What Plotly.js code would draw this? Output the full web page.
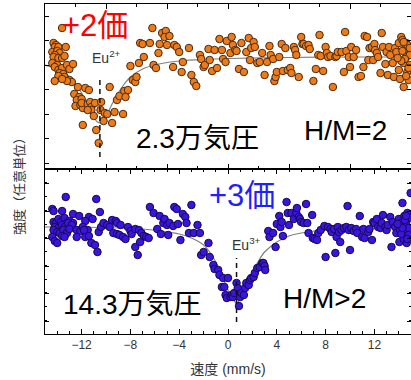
<!DOCTYPE html>
<html><head><meta charset="utf-8">
<script src="https://cdn.plot.ly/plotly-3.0.1.min.js"></script>
<style>html,body{margin:0;padding:0;background:#fff;overflow:hidden}#chart{width:411px;height:380px}</style>
</head><body><div id="chart"></div>
<script>
const FONT = '"Liberation Sans", Arial, "Noto Sans CJK JP", sans-serif';

// Top panel (2.3万気圧): velocity (mm/s), intensity (arb. units)
const topPoints = [
[-13.6,141],[-14.3,126],[-14.1,124],[-14.2,122],[-13.9,122],[-14.4,117],[-14.0,118],[-13.8,116],[-14.2,114],[-14.3,112],[-13.9,111],[-13.6,111],[-13.4,113],[-13.3,122],[-14.4,106],[-14.0,104],[-14.2,102],[-13.9,99],[-13.6,101],[-13.2,104],[-13.0,100],[-12.7,105],[-13.8,96],[-13.5,95],[-13.9,93],[-13.4,92],[-13.0,89],[-12.8,87],[-13.2,88],[-14.2,88],[-13.6,90],[-12.3,82],[-12.6,75],[-12.2,72],[-12.4,69],[-12.0,70],[-11.7,81],[-11.4,79],[-12.5,63],[-12.1,64],[-11.9,61],[-12.0,66],[-11.5,65],[-11.3,67],[-11.2,62],[-10.9,66],[-11.2,59],[-11.5,59],[-11.0,53],[-11.9,44],[-10.4,67],[-10.45,59],[-10.1,56],[-10.8,39],[-10.6,26],[-9.9,55],[-10.2,48],[-9.7,82],[-9.5,46],[-9.1,69],[-9.3,57],[-8.9,73],[-8.5,78],[-8.6,55],[-8.4,72],[-8.2,79],[-8.0,103],[-7.8,89],[-7.6,87],[-7.5,92],[-7.3,106],[-7.2,126],[-7.0,125],[-6.9,112],[-6.4,126],[-6.2,141],[-6.1,104],[-5.9,101],[-5.7,116],[-5.6,125],[-5.4,136],[-5.1,138],[-5.2,132],[-4.8,133],[-5.0,124],[-4.5,102],[-4.4,124],[-4.2,122],[-4.0,117],[-3.8,97],[-3.7,107],[-3.2,121],[-3.0,94],[-2.8,87],[-2.6,83],[-2.3,114],[-2.2,110],[-2.0,102],[-1.9,104],[-1.6,120],[-1.5,109],
[-1.3,98],[-1.1,119],[-0.9,101],[-0.7,130],[-0.5,119],[-0.4,110],[-0.2,107],[-0.1,128],[0.2,116],[0.3,132],[0.4,124],[0.6,119],[0.7,118],[0.9,100],[1.1,126],[1.3,97],[1.5,117],[1.7,131],[1.8,109],[1.9,121],[2.1,127],[2.2,122],[2.4,106],[2.6,107],[2.8,116],[3.0,94],[3.2,107],[3.4,123],[3.5,114],[3.7,110],[3.8,88],[3.9,92],[4.0,97],[4.2,112],[4.4,125],[4.5,98],[4.7,121],[4.9,99],[5.1,101],[5.2,96],[5.4,122],[5.5,119],[5.6,114],[5.8,92],[6.0,132],[6.1,125],[6.2,125],[6.4,123],[6.6,124],[6.7,120],[7.0,88],[7.2,100],[7.4,114],[7.5,134],[7.6,113],[7.8,98],[8.0,122],[8.1,116],[8.2,112],[8.4,113],[8.6,82],[8.8,112],[8.9,113],[9.0,117],[9.3,117],[9.5,97],[9.6,137],[9.7,118],[9.9,112],[10.0,102],[10.1,122],[10.3,112],[10.5,119],[10.7,92],[10.9,93],[11.1,102],[11.2,133],[11.4,132],[11.5,109],[11.6,121],[11.8,122],[11.9,109],[12.0,125],[12.05,119],[12.2,116],[12.3,112],[12.5,96],[12.6,136],[12.7,122],[12.9,105],[13.0,117],[13.1,94],[13.2,122],[13.3,114],[13.5,106],[13.6,92],[13.7,121],[13.8,117],[14.0,126],[14.0,99],[14.1,90],[14.2,132],[14.3,129],[14.4,82],[14.4,106],[14.5,120],[14.6,126],[14.6,112],[14.7,97],[14.8,89],[14.9,104],[14.9,114],[14.3,118],[14.5,110],[14.7,124],[14.8,101],[14.2,108],[14.6,93],[14.9,121],[13.9,111],[14.4,127]
];
const topFitVelocity  = [-15,-14,-13.5,-13,-12.5,-12,-11.5,-11,-10.75,-10.5,-10.25,-10,-9.5,-9,-8.5,-8,-7,-6,-5,-4,-2,0,5,10,15];
const topFitIntensity = [104,100,97,92,85,76,65,52,47.5,46,47.5,52,65,76,85,92,100,104,106.5,108,109.6,110.5,111.5,112,112];

// Bottom panel (14.3万気圧)
const bottomPoints = [
[-13.3,137],[-14.4,125],[-14.3,123],[-13.6,123],[-10.8,135],[-10.5,122],[-12.7,120],[-12.2,118],[-11.4,117],[-11.1,115],[-11.7,113],[-14.3,112],[-14.1,111],[-13.9,115],[-13.7,112],[-13.4,116],[-13.2,111],[-13.0,113],[-12.7,111],[-14.2,107],[-13.9,106],[-13.6,109],[-13.4,107],[-13.1,111],[-12.8,109],[-14.3,104],[-14.0,102],[-13.8,101],[-13.5,104],[-13.2,101],[-13.0,105],[-12.4,104],[-12.1,103],[-11.9,107],[-11.5,104],[-14.4,97],[-14.2,93],[-14.0,91],[-13.6,98],[-13.4,97],[-12.4,97],[-11.7,97],[-11.4,98],[-11.2,91],[-10.9,89],[-10.7,82],[-11.8,104],[-10.6,102],[-10.4,107],[-10.2,111],[-9.9,109],[-9.7,107],[-9.5,114],[-9.2,113],[-9.1,111],[-8.8,109],[-9.4,101],[-9.1,100],[-8.9,99],[-8.6,97],[-8.4,95],[-8.2,107],[-8.0,103],[-7.9,100],[-7.6,105],[-7.4,79],[-7.6,87],[-7.2,92],[-7.3,104],[-7.1,101],[-6.9,98],[-6.7,97],[-6.5,96],[-6.4,127],[-6.1,121],[-5.8,105],[-5.6,118],[-5.5,100],[-5.3,111],[-5.2,115],[-5.0,109],[-4.9,99],[-4.8,111],[-4.5,108],[-4.4,127],[-4.2,125],[-3.9,94],[-4.1,110],[-3.7,120],[-3.5,117],[-3.4,111],[-3.2,101],[-3.0,129],[-2.8,101],[-2.5,109],[-2.3,101],[-2.2,79],[-2.0,82],[-1.6,91],[-1.5,77],
[-1.2,69],[-1.1,65],[-0.8,64],[-0.7,59],[-0.5,47],[-0.3,47],[-0.4,56],[-0.2,39],[0.0,56],[-0.1,36],[0.2,37],[0.3,39],[0.4,37],[0.5,41],[0.7,51],[0.8,46],[0.9,28],[1.0,37],[1.1,41],[1.3,39],[1.4,46],[1.5,51],[1.7,49],[1.8,54],[1.9,56],[2.1,57],[2.2,61],[2.4,66],[2.6,67],[2.8,71],[2.9,71],[3.0,68],[3.05,64],[3.3,103],[3.4,97],[3.7,101],[3.9,87],[4.0,110],[4.2,118],[4.3,107],[4.5,98],[4.4,112],[4.8,132],[4.9,121],[5.0,109],[5.2,121],[5.4,115],[5.6,121],[5.65,126],[5.8,117],[5.9,115],[6.0,112],[6.2,111],[6.4,130],[6.5,111],[6.6,101],[6.9,119],[6.95,96],[7.1,95],[7.3,94],[7.4,101],[7.6,104],[7.9,108],[8.0,77],[8.2,107],[8.4,105],[8.5,102],[8.7,105],[8.8,81],[8.9,97],[9.0,107],[9.1,102],[9.2,92],[9.3,104],[9.5,106],[9.7,107],[9.8,128],[9.9,104],[10.0,84],[10.1,106],[10.3,103],[10.5,105],[10.6,101],[10.8,118],[11.0,97],[11.1,105],[11.2,96],[11.5,102],[11.6,105],[11.8,94],[11.9,112],[12.0,111],[12.2,115],[12.3,107],[12.5,106],[12.6,111],[12.7,119],[12.9,107],[13.0,104],[13.1,109],[13.3,117],[13.4,87],[13.5,112],[13.7,107],[13.8,101],[14.0,115],[14.05,92],[14.1,104],[14.2,111],[14.3,131],[14.4,95],[14.45,118],[14.5,102],[14.6,110],[14.65,91],[14.7,121],[14.8,106],[14.9,97],[14.95,116],[14.97,141],[14.2,100],[14.5,114],[14.8,99],[14.3,106],[14.7,95],[13.9,110],[14.6,118]
];
const bottomFitVelocity  = [-15,-12,-9,-7,-5,-4,-3,-2,-1.5,-1,-0.5,0,0.35,0.7,1.05,1.4,2,2.5,3,4,5,6,8,10,12,15];
const bottomFitIntensity = [107,107,106,105,102,100,96,89,82,72,59,44,36,31,36,44,62,73,82,92,98,101,104,105,106,106];

// Reference isomer-shift markers (dashed)
const eu2Velocity = [-10.5,-10.5], eu2Span = [12,89];
const eu3Velocity = [0.7,0.7],    eu3Span = [12,76];

const fitLine = {color:'#808080', width:1.2, shape:'spline', smoothing:0.9};
const dashLine = {color:'#111', width:1.5, dash:'5px,4px'};

const traces = [
  {x:topFitVelocity, y:topFitIntensity, xaxis:'x2', yaxis:'y', mode:'lines', line:fitLine, hoverinfo:'skip'},
  {x:topPoints.map(p=>p[0]), y:topPoints.map(p=>p[1]), xaxis:'x2', yaxis:'y', mode:'markers',
   marker:{size:7.5, color:'#ee7b1a', line:{color:'#4a2a10', width:1}}},
  {x:eu2Velocity, y:eu2Span, xaxis:'x2', yaxis:'y', mode:'lines', line:dashLine, hoverinfo:'skip'},
  {x:bottomFitVelocity, y:bottomFitIntensity, xaxis:'x', yaxis:'y2', mode:'lines', line:fitLine, hoverinfo:'skip'},
  {x:bottomPoints.map(p=>p[0]), y:bottomPoints.map(p=>p[1]), xaxis:'x', yaxis:'y2', mode:'markers',
   marker:{size:7.5, color:'#3c14e0', line:{color:'#140a50', width:1}}},
  {x:eu3Velocity, y:eu3Span, xaxis:'x', yaxis:'y2', mode:'lines', line:dashLine, hoverinfo:'skip'}
];

const axisCommon = {showline:true, linecolor:'#000', linewidth:1, mirror:'ticks', showgrid:false, zeroline:false,
  ticks:'inside', tickcolor:'#000', tickwidth:1};

const layout = {
  width:411, height:380, margin:{l:45, r:0, t:4, b:46},
  paper_bgcolor:'#fff', plot_bgcolor:'#fff', showlegend:false,
  font:{family:FONT, color:'#000'},
  xaxis:Object.assign({}, axisCommon, {anchor:'y2', domain:[0,1], range:[-15,15], tick0:0, dtick:4, ticklen:5,
    minor:{dtick:1, ticks:'inside', ticklen:3, tickcolor:'#000'},
    tickfont:{size:12, color:'#333'},
    title:{text:'速度 (mm/s)', font:{size:14, color:'#333'}, standoff:12}}),
  xaxis2:Object.assign({}, axisCommon, {anchor:'y', domain:[0,1], range:[-15,15], tick0:0, dtick:5, ticklen:5,
    minor:{dtick:2.5, ticks:'inside', ticklen:3, tickcolor:'#000'}, showticklabels:false}),
  yaxis:Object.assign({}, axisCommon, {anchor:'x2', domain:[0.5,1], range:[0,165], tick0:6, dtick:24.5, ticklen:4,
    showticklabels:false}),
  yaxis2:Object.assign({}, axisCommon, {anchor:'x', domain:[0,0.5], range:[0,165], tick0:13, dtick:27.5, ticklen:4,
    minor:{dtick:13.75, ticks:'inside', ticklen:2, tickcolor:'#000'}, showticklabels:false}),
  annotations:[
    {xref:'x2', yref:'y', x:-10.9, y:144, text:'+2価', showarrow:false, font:{size:31, color:'#ff0000'}},
    {xref:'x2', yref:'y', x:-10.0, y:112, text:'Eu<sup>2+</sup>', showarrow:false, font:{size:14, color:'#333'}},
    {xref:'x2', yref:'y', x:-2.5, y:31, text:'2.3万気圧', showarrow:false, font:{size:28, color:'#000'}},
    {xref:'x2', yref:'y', x:9.6, y:39, text:'H/M=2', showarrow:false, font:{size:28, color:'#000'}},
    {xref:'x', yref:'y2', x:1.15, y:139, text:'+3価', showarrow:false, font:{size:31, color:'#1f1fff'}},
    {xref:'x', yref:'y2', x:1.5, y:90, text:'Eu<sup>3+</sup>', showarrow:false, font:{size:14, color:'#333'}},
    {xref:'x', yref:'y2', x:-7.8, y:30, text:'14.3万気圧', showarrow:false, font:{size:28, color:'#000'}},
    {xref:'x', yref:'y2', x:7.9, y:36, text:'H/M>2', showarrow:false, font:{size:28, color:'#000'}},
    {xref:'paper', yref:'paper', x:-0.068, y:0.458, xanchor:'center', yanchor:'middle', text:'強度（任意単位）',
     textangle:-90, showarrow:false, font:{size:13, color:'#333'}}
  ]
};

Plotly.newPlot('chart', traces, layout, {staticPlot:true, displayModeBar:false});
</script></body></html>
